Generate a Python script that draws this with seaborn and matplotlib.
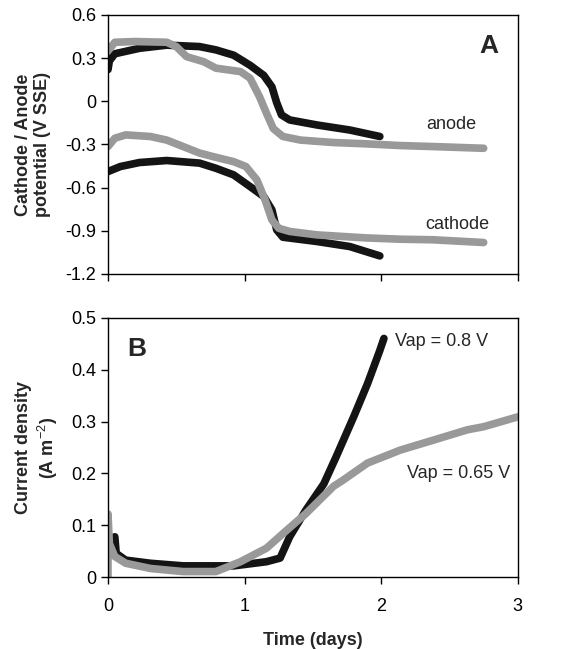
import numpy as np
import pandas as pd
import matplotlib
matplotlib.use('Agg')
import matplotlib.pyplot as plt
import seaborn as sns

# panel A: electrode potentials (V SSE)
anode_08_t = [0.0, 0.01, 0.05, 0.23, 0.43, 0.67, 0.79, 0.92, 1.04, 1.14, 1.2, 1.235, 1.27, 1.33, 1.53, 1.77, 1.99]
anode_08_v = [0.22, 0.28, 0.33, 0.368, 0.39, 0.38, 0.357, 0.32, 0.25, 0.18, 0.10, -0.01, -0.095, -0.13, -0.165, -0.20, -0.245]
anode_065_t = [0.0, 0.05, 0.2, 0.43, 0.5, 0.575, 0.70, 0.79, 0.97, 1.04, 1.11, 1.16, 1.21, 1.28, 1.41, 1.65, 1.89, 2.14, 2.38, 2.75]
anode_065_v = [0.35, 0.41, 0.415, 0.41, 0.38, 0.31, 0.275, 0.23, 0.206, 0.16, 0.03, -0.083, -0.19, -0.245, -0.27, -0.287, -0.296, -0.308, -0.315, -0.327]
cath_08_t = [0.0, 0.09, 0.23, 0.43, 0.67, 0.79, 0.92, 1.04, 1.14, 1.2, 1.235, 1.28, 1.53, 1.77, 1.99]
cath_08_v = [-0.489, -0.454, -0.426, -0.412, -0.43, -0.466, -0.512, -0.593, -0.662, -0.755, -0.894, -0.945, -0.975, -1.01, -1.075]
cath_065_t = [0.0, 0.05, 0.13, 0.31, 0.43, 0.55, 0.67, 0.77, 0.92, 1.01, 1.09, 1.15, 1.2, 1.25, 1.33, 1.53, 1.65, 1.89, 2.14, 2.38, 2.75]
cath_065_v = [-0.315, -0.257, -0.234, -0.245, -0.27, -0.315, -0.36, -0.385, -0.42, -0.454, -0.547, -0.686, -0.825, -0.883, -0.905, -0.929, -0.936, -0.95, -0.959, -0.963, -0.982]

# panel B: current density (A m-2)
cur_08_t = [0.05, 0.06, 0.13, 0.31, 0.55, 0.92, 1.16, 1.26, 1.33, 1.45, 1.58, 1.67, 1.8, 1.9, 1.99, 2.02]
cur_08_i = [0.078, 0.046, 0.033, 0.027, 0.022, 0.022, 0.030, 0.037, 0.078, 0.13, 0.18, 0.232, 0.31, 0.373, 0.437, 0.46]
cur_065_t = [0.0, 0.0, 0.01, 0.05, 0.13, 0.31, 0.55, 0.79, 0.97, 1.16, 1.31, 1.45, 1.65, 1.72, 1.9, 2.14, 2.38, 2.63, 2.75, 3.0]
cur_065_i = [0.0, 0.122, 0.065, 0.04, 0.027, 0.017, 0.011, 0.011, 0.03, 0.056, 0.091, 0.123, 0.175, 0.187, 0.22, 0.245, 0.264, 0.284, 0.29, 0.309]

BLACK = '#141414'
GRAY = '#999999'

sns.set_style('ticks')
plt.rcParams['font.family'] = ['Liberation Sans', 'DejaVu Sans']
plt.rcParams['mathtext.fontset'] = 'custom'
plt.rcParams['mathtext.rm'] = 'Liberation Sans'
plt.rcParams['mathtext.bf'] = 'Liberation Sans:bold'

pot = pd.concat([
    pd.DataFrame({'t': anode_08_t, 'v': anode_08_v, 'run': 'a08'}),
    pd.DataFrame({'t': anode_065_t, 'v': anode_065_v, 'run': 'a065'}),
    pd.DataFrame({'t': cath_08_t, 'v': cath_08_v, 'run': 'c08'}),
    pd.DataFrame({'t': cath_065_t, 'v': cath_065_v, 'run': 'c065'}),
])
cur = pd.concat([
    pd.DataFrame({'t': cur_08_t, 'i': cur_08_i, 'run': 'b08'}),
    pd.DataFrame({'t': cur_065_t, 'i': cur_065_i, 'run': 'b065'}),
])
pal = {'a08': BLACK, 'c08': BLACK, 'b08': BLACK, 'a065': GRAY, 'c065': GRAY, 'b065': GRAY}

fig = plt.figure(figsize=(5.61, 6.49), dpi=100)
ax1 = fig.add_axes([0.1925, 0.578, 0.7305, 0.399])
ax2 = fig.add_axes([0.1925, 0.1105, 0.7305, 0.400])

sns.lineplot(data=pot, x='t', y='v', hue='run', palette=pal, units='run', estimator=None,
             sort=False, lw=5.5, legend=False, ax=ax1)
sns.lineplot(data=cur, x='t', y='i', hue='run', palette=pal, units='run', estimator=None,
             sort=False, lw=5.5, legend=False, ax=ax2)

for ax in (ax1, ax2):
    ax.set_xlim(0, 3)
    ax.set_xticks([0, 1, 2, 3])
    for s in ax.spines.values():
        s.set_color('black')
        s.set_linewidth(1.0)
    ax.tick_params(direction='out', length=5, width=1, labelsize=13, colors='black')
    ax.set_xlabel('')

ax1.set_ylim(-1.2, 0.6)
ax1.set_yticks([-1.2, -0.9, -0.6, -0.3, 0, 0.3, 0.6])
ax1.set_yticklabels(['-1.2', '-0.9', '-0.6', '-0.3', '0', '0.3', '0.6'])
ax1.set_xticklabels([])
ax1.set_ylabel('Cathode / Anode\npotential (V SSE)', fontsize=13, fontweight='bold', labelpad=10)
ax1.text(0.93, 0.88, 'A', transform=ax1.transAxes, fontsize=19, fontweight='bold', ha='center', va='center')
ax1.text(2.51, -0.16, 'anode', fontsize=13, ha='center', va='center')
ax1.text(2.56, -0.86, 'cathode', fontsize=13, ha='center', va='center')

ax2.set_ylim(0, 0.5)
ax2.set_yticks([0, 0.1, 0.2, 0.3, 0.4, 0.5])
ax2.set_yticklabels(['0', '0.1', '0.2', '0.3', '0.4', '0.5'])
ax2.tick_params(axis='x', pad=10)
ax2.set_ylabel('Current density\n(A m$^{-2}$)', fontsize=13, fontweight='bold', labelpad=8)
ax2.set_xlabel('Time (days)', fontsize=13, fontweight='bold', labelpad=12)
ax2.text(0.07, 0.88, 'B', transform=ax2.transAxes, fontsize=19, fontweight='bold', ha='center', va='center')
ax2.text(2.1, 0.455, 'Vap = 0.8 V', fontsize=13, ha='left', va='center')
ax2.text(2.19, 0.2, 'Vap = 0.65 V', fontsize=13, ha='left', va='center')

fig.savefig('out.png', dpi=100)
